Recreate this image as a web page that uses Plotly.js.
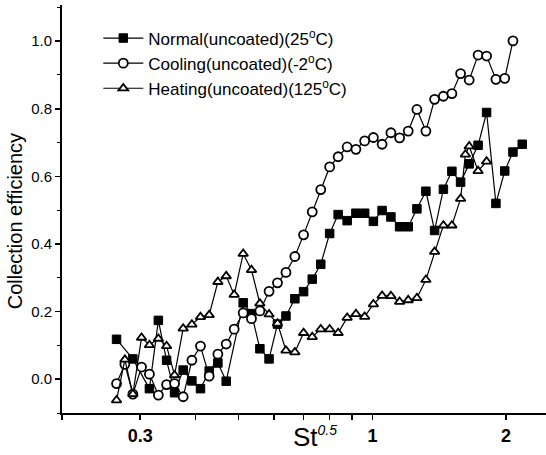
<!DOCTYPE html>
<html>
<head>
<meta charset="utf-8">
<script src="https://cdn.plot.ly/plotly-3.0.1.min.js"></script>
<style>html,body{margin:0;padding:0;background:#fff;}#chart{width:546px;height:455px;}</style>
</head>
<body>
<div id="chart"></div>
<script>
// St^0.5 values and collection efficiencies
const normalX = [0.2654,0.2888,0.3147,0.3296,0.3440,0.3585,0.3749,0.3922,0.4101,0.4290,0.4488,0.4686,0.5117,0.5342,0.5580,0.5852,0.6113,0.6388,0.6690,0.6999,0.7321,0.7651,0.8012,0.8373,0.8774,0.9181,0.9608,1.0052,1.0516,1.1007,1.1515,1.2041,1.2596,1.3197,1.3806,1.4450,1.5101,1.5798,1.6519,1.7299,1.8079,1.8973,1.9862,2.0726,2.1749];
const normalY = [0.118,0.060,-0.028,0.174,0.056,-0.040,0.027,-0.005,-0.028,0.024,0.048,-0.006,0.226,0.194,0.090,0.060,0.163,0.187,0.238,0.259,0.296,0.340,0.431,0.487,0.469,0.491,0.491,0.467,0.499,0.480,0.451,0.451,0.504,0.556,0.440,0.562,0.615,0.583,0.637,0.692,0.789,0.520,0.616,0.672,0.695];

const coolingX = [0.2654,0.2771,0.2888,0.3021,0.3147,0.3296,0.3440,0.3585,0.3749,0.3922,0.4101,0.4290,0.4488,0.4686,0.4884,0.5117,0.5342,0.5580,0.5852,0.6113,0.6388,0.6690,0.6999,0.7321,0.7651,0.8012,0.8373,0.8774,0.9181,0.9608,1.0052,1.0516,1.1007,1.1515,1.2041,1.2596,1.3197,1.3806,1.4450,1.5101,1.5798,1.6519,1.7299,1.8079,1.8973,1.9862,2.0726];
const coolingY = [-0.013,0.044,-0.044,0.036,0.015,-0.047,-0.016,-0.013,-0.052,0.056,0.098,0.009,0.074,0.104,0.148,0.196,0.179,0.202,0.260,0.285,0.316,0.363,0.427,0.495,0.561,0.628,0.658,0.687,0.680,0.705,0.715,0.695,0.729,0.714,0.734,0.798,0.734,0.828,0.837,0.845,0.904,0.885,0.959,0.956,0.887,0.890,1.001];

const heatingX = [0.2654,0.2771,0.2888,0.3021,0.3147,0.3296,0.3440,0.3585,0.3749,0.3922,0.4101,0.4290,0.4488,0.4686,0.4884,0.5117,0.5342,0.5580,0.5852,0.6113,0.6388,0.6690,0.6999,0.7321,0.7651,0.8012,0.8373,0.8774,0.9181,0.9608,1.0052,1.0516,1.1007,1.1515,1.2041,1.2596,1.3197,1.3806,1.4450,1.5101,1.5798,1.6196,1.6519,1.7299,1.8079];
const heatingY = [-0.062,0.058,-0.044,0.123,0.101,0.120,0.098,0.012,0.150,0.162,0.184,0.190,0.288,0.305,0.250,0.371,0.323,0.224,0.192,0.165,0.085,0.080,0.137,0.125,0.148,0.148,0.137,0.182,0.193,0.185,0.222,0.247,0.246,0.229,0.234,0.240,0.294,0.377,0.455,0.455,0.534,0.665,0.689,0.616,0.644];

const seriesNames = ['Normal(uncoated)(25<sup>o</sup>C)','Cooling(uncoated)(-2<sup>o</sup>C)','Heating(uncoated)(125<sup>o</sup>C)'];

const xTickVals = [0.3,1,2];
const xTickText = ['0.3','1','2'];
const xMinorVals = [0.2,0.4,0.5,0.6,0.7,0.8,0.9];
const yTickVals = [0,0.2,0.4,0.6,0.8,1.0];
const yTickText = ['0.0','0.2','0.4','0.6','0.8','1.0'];

const FONT = 'Liberation Sans, Arial, sans-serif';

const traces = [
  {x: normalX, y: normalY, name: seriesNames[0], type:'scatter', mode:'lines+markers',
   line:{color:'#000', width:1.2},
   marker:{symbol:'square', size:8.5, color:'#000', line:{color:'#000', width:1}}},
  {x: coolingX, y: coolingY, name: seriesNames[1], type:'scatter', mode:'lines+markers',
   line:{color:'#000', width:1.2},
   marker:{symbol:'circle', size:9, color:'#fff', line:{color:'#000', width:1.8}}},
  {x: heatingX, y: heatingY, name: seriesNames[2], type:'scatter', mode:'lines+markers',
   line:{color:'#000', width:1.2},
   marker:{symbol:'triangle-up', size:8.5, color:'#fff', line:{color:'#000', width:1.8}}}
];

const layout = {
  width:546, height:455,
  margin:{l:62, r:0, t:5, b:42, pad:0},
  paper_bgcolor:'#fff', plot_bgcolor:'#fff',
  font:{family:FONT, color:'#000', size:15},
  showlegend:true,
  legend:{x:0.075, y:0.962, xanchor:'left', yanchor:'top', bgcolor:'rgba(0,0,0,0)',
          font:{family:FONT, size:17, color:'#000'}, tracegroupgap:0, itemwidth:40},
  xaxis:{type:'log', range:[Math.log10(0.2), Math.log10(2.46)],
         showline:true, linecolor:'#000', linewidth:2, mirror:false,
         showgrid:false, zeroline:false,
         tickmode:'array', tickvals:xTickVals, ticktext:xTickText,
         ticks:'outside', ticklen:5, tickwidth:1.5, tickcolor:'#000',
         minor:{tickmode:'array', tickvals:xMinorVals, ticks:'outside', ticklen:5, tickwidth:1.5, tickcolor:'#000', showgrid:false},
         tickfont:{family:FONT, size:18, color:'#000', weight:'bold'}},
  yaxis:{range:[-0.1, 1.107],
         showline:true, linecolor:'#000', linewidth:2, mirror:false,
         showgrid:false, zeroline:false,
         tickmode:'array', tickvals:yTickVals, ticktext:yTickText,
         ticks:'outside', ticklen:5, tickwidth:1.5, tickcolor:'#000',
         minor:{tickmode:'linear', tick0:-0.1, dtick:0.2, ticks:'outside', ticklen:3, tickwidth:1, tickcolor:'#000', showgrid:false},
         tickfont:{family:FONT, size:15, color:'#000'}},
  annotations:[
    {text:'St<sup><span style="font-size:14px"><i>0.5</i></span></sup>', xref:'paper', yref:'paper', x:0.522, y:-0.058,
     xanchor:'center', yanchor:'middle', showarrow:false,
     font:{family:FONT, size:26, color:'#000'}},
    {text:'Collection efficiency', xref:'paper', yref:'paper', x:-0.097, y:0.47,
     xanchor:'center', yanchor:'middle', textangle:-90, showarrow:false,
     font:{family:FONT, size:20, color:'#000'}}
  ]
};

Plotly.newPlot('chart', traces, layout, {displayModeBar:false, staticPlot:true});
</script>
</body>
</html>
